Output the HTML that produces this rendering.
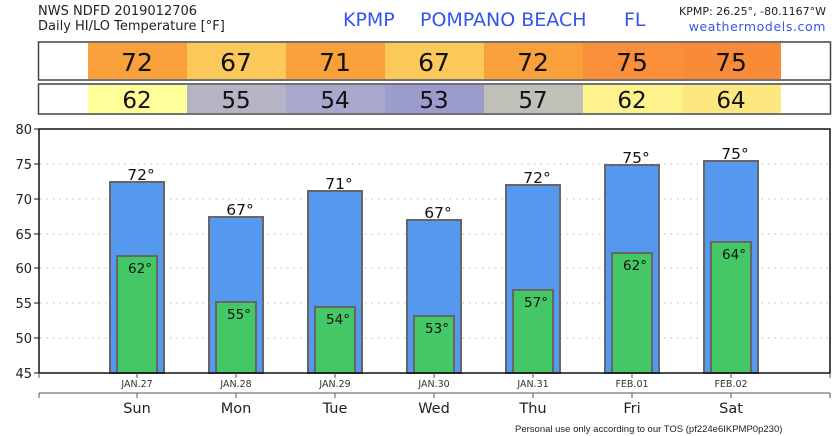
<!DOCTYPE html>
<html><head><meta charset="utf-8"><style>body{margin:0;background:#fff}svg{display:block;font-family:"DejaVu Sans","Liberation Sans",sans-serif}</style></head><body>
<svg width="838" height="436" viewBox="0 0 838 436" xmlns="http://www.w3.org/2000/svg">
<text x="38" y="15" font-size="13" fill="#222">NWS NDFD 2019012706</text>
<text x="38" y="30" font-size="13" fill="#222">Daily HI/LO Temperature [°F]</text>
<text x="343" y="26" font-size="19" fill="#3355ee">KPMP</text>
<text x="420" y="26" font-size="19" fill="#3355ee">POMPANO BEACH</text>
<text x="624" y="26" font-size="19" fill="#3355ee">FL</text>
<text x="826" y="15" font-size="11" fill="#222" text-anchor="end">KPMP: 26.25°, -80.1167°W</text>
<text x="826" y="31" font-size="12.5" fill="#3355ee" text-anchor="end" letter-spacing="0.6">weathermodels.com</text>
<rect x="38.5" y="42" width="792" height="38" fill="#fff" stroke="#444" stroke-width="1.5"/>
<rect x="38.5" y="84" width="792" height="30" fill="#fff" stroke="#444" stroke-width="1.5"/>
<g font-size="25" text-anchor="middle" fill="#111">
<rect x="88" y="43" width="99" height="36" fill="#f9a03a"/><text x="137" y="71">72</text>
<rect x="187" y="43" width="99" height="36" fill="#fbc85a"/><text x="236" y="71">67</text>
<rect x="286" y="43" width="99" height="36" fill="#f9a03a"/><text x="335" y="71">71</text>
<rect x="385" y="43" width="99" height="36" fill="#fbc85a"/><text x="434" y="71">67</text>
<rect x="484" y="43" width="99" height="36" fill="#f9a03a"/><text x="533" y="71">72</text>
<rect x="583" y="43" width="99" height="36" fill="#f98f3a"/><text x="632" y="71">75</text>
<rect x="682" y="43" width="99" height="36" fill="#f98a38"/><text x="731" y="71">75</text>
</g>
<g font-size="23" text-anchor="middle" fill="#111">
<rect x="88" y="85" width="99" height="28" fill="#ffff99"/><text x="137" y="108">62</text>
<rect x="187" y="85" width="99" height="28" fill="#b4b4c4"/><text x="236" y="108">55</text>
<rect x="286" y="85" width="99" height="28" fill="#a8a8cc"/><text x="335" y="108">54</text>
<rect x="385" y="85" width="99" height="28" fill="#9c9ccc"/><text x="434" y="108">53</text>
<rect x="484" y="85" width="99" height="28" fill="#c0c0b8"/><text x="533" y="108">57</text>
<rect x="583" y="85" width="99" height="28" fill="#fdf28c"/><text x="632" y="108">62</text>
<rect x="682" y="85" width="99" height="28" fill="#fde880"/><text x="731" y="108">64</text>
</g>
<g stroke="#bbb" stroke-dasharray="1.5 5" stroke-width="1">
<line x1="40" x2="830" y1="164" y2="164"/><line x1="40" x2="830" y1="199" y2="199"/><line x1="40" x2="830" y1="234" y2="234"/><line x1="40" x2="830" y1="268" y2="268"/><line x1="40" x2="830" y1="303" y2="303"/><line x1="40" x2="830" y1="338" y2="338"/>
</g>
<g font-size="13" fill="#222" text-anchor="end">
<text x="32" y="134">80</text><text x="32" y="169">75</text><text x="32" y="204">70</text><text x="32" y="239">65</text><text x="32" y="273">60</text><text x="32" y="308">55</text><text x="32" y="343">50</text><text x="32" y="378">45</text>
</g>
<g stroke="#111" stroke-width="1"><line x1="34" x2="39" y1="129" y2="129"/><line x1="34" x2="39" y1="164" y2="164"/><line x1="34" x2="39" y1="199" y2="199"/><line x1="34" x2="39" y1="234" y2="234"/><line x1="34" x2="39" y1="268" y2="268"/><line x1="34" x2="39" y1="303" y2="303"/><line x1="34" x2="39" y1="338" y2="338"/><line x1="34" x2="39" y1="373" y2="373"/></g>
<g stroke="#666" stroke-width="2">
<rect x="110" y="182" width="54" height="191" fill="#5599ee"/><rect x="117" y="256" width="40" height="117" fill="#44c866"/>
<rect x="209" y="217" width="54" height="156" fill="#5599ee"/><rect x="216" y="302" width="40" height="71" fill="#44c866"/>
<rect x="308" y="191" width="54" height="182" fill="#5599ee"/><rect x="315" y="307" width="40" height="66" fill="#44c866"/>
<rect x="407" y="220" width="54" height="153" fill="#5599ee"/><rect x="414" y="316" width="40" height="57" fill="#44c866"/>
<rect x="506" y="185" width="54" height="188" fill="#5599ee"/><rect x="513" y="290" width="40" height="83" fill="#44c866"/>
<rect x="605" y="165" width="54" height="208" fill="#5599ee"/><rect x="612" y="253" width="40" height="120" fill="#44c866"/>
<rect x="704" y="161" width="54" height="212" fill="#5599ee"/><rect x="711" y="242" width="40" height="131" fill="#44c866"/>
</g>
<g font-size="15.5" text-anchor="middle" fill="#111">
<text x="141" y="180">72°</text><text x="240" y="215">67°</text><text x="339" y="189">71°</text><text x="438" y="218">67°</text><text x="537" y="183">72°</text><text x="636" y="163">75°</text><text x="735" y="159">75°</text>
</g>
<g font-size="13.5" text-anchor="middle" fill="#111">
<text x="140" y="273">62°</text><text x="239" y="319">55°</text><text x="338" y="324">54°</text><text x="437" y="333">53°</text><text x="536" y="307">57°</text><text x="635" y="270">62°</text><text x="734" y="259">64°</text>
</g>
<rect x="39" y="129" width="791" height="244" fill="none" stroke="#111" stroke-width="1.5"/>
<g stroke="#555" stroke-width="1">
<line x1="39" x2="39" y1="373" y2="378"/><line x1="137" x2="137" y1="373" y2="378"/><line x1="236" x2="236" y1="373" y2="378"/><line x1="335" x2="335" y1="373" y2="378"/><line x1="434" x2="434" y1="373" y2="378"/><line x1="533" x2="533" y1="373" y2="378"/><line x1="632" x2="632" y1="373" y2="378"/><line x1="731" x2="731" y1="373" y2="378"/><line x1="830" x2="830" y1="373" y2="378"/>
<line x1="39" x2="830" y1="393" y2="393"/>
<line x1="39" x2="39" y1="393" y2="398"/><line x1="137" x2="137" y1="393" y2="398"/><line x1="236" x2="236" y1="393" y2="398"/><line x1="335" x2="335" y1="393" y2="398"/><line x1="434" x2="434" y1="393" y2="398"/><line x1="533" x2="533" y1="393" y2="398"/><line x1="632" x2="632" y1="393" y2="398"/><line x1="731" x2="731" y1="393" y2="398"/><line x1="830" x2="830" y1="393" y2="398"/>
</g>
<g font-size="9.5" text-anchor="middle" fill="#333">
<text x="137" y="387">JAN.27</text><text x="236" y="387">JAN.28</text><text x="335" y="387">JAN.29</text><text x="434" y="387">JAN.30</text><text x="533" y="387">JAN.31</text><text x="632" y="387">FEB.01</text><text x="731" y="387">FEB.02</text>
</g>
<g font-size="14.5" text-anchor="middle" fill="#222">
<text x="137" y="413">Sun</text><text x="236" y="413">Mon</text><text x="335" y="413">Tue</text><text x="434" y="413">Wed</text><text x="533" y="413">Thu</text><text x="632" y="413">Fri</text><text x="731" y="413">Sat</text>
</g>
<text x="515" y="432" font-size="9.5" fill="#222" font-family="Liberation Sans, sans-serif">Personal use only according to our TOS (pf224e6IKPMP0p230)</text>
</svg>
</body></html>
